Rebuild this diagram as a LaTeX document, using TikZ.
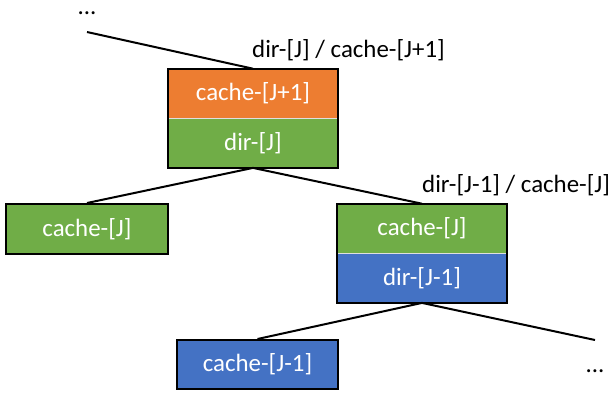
\documentclass[tikz,border=0pt]{standalone}
\usepackage{fontspec}
\setmainfont{Carlito}
\usetikzlibrary{positioning}
\definecolor{orangefill}{HTML}{ED7D31}
\definecolor{greenfill}{HTML}{70AD47}
\definecolor{bluefill}{HTML}{4472C4}
\tikzstyle{halfbox} = [rectangle, minimum width=170bp, minimum height=49bp, inner sep=0pt,
                       text=white, draw=white!75!gray, line width=0.6bp, font=\fontsize{25}{30}\selectfont]
\tikzstyle{orangebox} = [halfbox, fill=orangefill]
\tikzstyle{greenbox} = [halfbox, fill=greenfill]
\tikzstyle{bluebox} = [halfbox, fill=bluefill]
\tikzstyle{leafbox} = [draw=black, line width=2bp, minimum width=161bp]
\tikzstyle{frame} = [draw=black, line width=2bp]
\tikzstyle{edge} = [draw=black, line width=2bp]
\tikzstyle{tag} = [inner sep=0pt, font=\fontsize{25}{30}\selectfont]

\begin{document}
\begin{tikzpicture}[x=1bp, y=-1bp]
    \useasboundingbox (0,0) rectangle (614,392);

    % Level J: split box
    \node[orangebox] (cachejp) at (253,93.5) {cache-[J+1]};
    \node[greenbox, below=0pt of cachejp] (dirj) {dir-[J]};
    \draw[frame] (cachejp.north west) rectangle (dirj.south east);

    % Level J-1: leaf and split box
    \node[greenbox, leafbox, minimum width=162bp, minimum height=50bp] (cachejleaf) at (87,229) {cache-[J]};
    \node[greenbox] (cachej) at (422,228.5) {cache-[J]};
    \node[bluebox, below=0pt of cachej] (dirjm) {dir-[J-1]};
    \draw[frame] (cachej.north west) rectangle (dirjm.south east);

    % Level J-2: leaf
    \node[bluebox, leafbox] (cachejmleaf) at (257.5,364.5) {cache-[J-1]};

    % Loose ends
    \coordinate (upend) at (87,32);
    \coordinate (downend) at (595,340);
    \node[tag, anchor=base, yshift=17.5bp] (updots) at (upend) {...};
    \node[tag, anchor=base, yshift=-32.5bp] (downdots) at (downend) {...};

    % Edges
    \draw[edge] (upend) -- (cachejp.north);
    \draw[edge] (dirj.south) -- (cachejleaf.north);
    \draw[edge] (dirj.south) -- (cachej.north);
    \draw[edge] (dirjm.south) -- (cachejmleaf.north);
    \draw[edge] (dirjm.south) -- (downend);

    % Labels
    \node[tag, anchor=base west, xshift=-1bp, yshift=11bp] (taga) at (cachejp.north) {dir-[J] / cache-[J+1]};
    \node[tag, anchor=base west, yshift=11bp] (tagb) at (cachej.north) {dir-[J-1] / cache-[J]};
\end{tikzpicture}
\end{document}
